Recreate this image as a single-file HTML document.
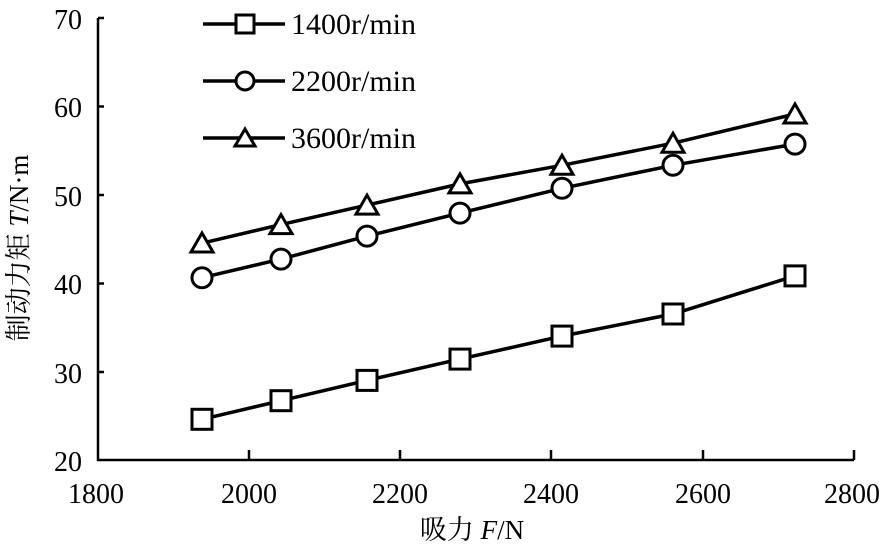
<!DOCTYPE html>
<html><head><meta charset="utf-8"><style>
html,body{margin:0;padding:0;background:#fff;}
svg{display:block;}
text{font-family:"Liberation Serif","Noto Serif CJK SC","Noto Sans CJK SC",serif;fill:#000;}
</style></head><body>
<svg width="887" height="546" viewBox="0 0 887 546" xmlns="http://www.w3.org/2000/svg">
<g stroke="#000" stroke-width="2.5" fill="none">
<path d="M98,18 V460 H854"/>
<path d="M98,18 H104 M98,106.5 H104 M98,195 H104 M98,283.5 H104 M98,372 H104"/>
<path d="M249,460 V450 M400,460 V450 M551,460 V450 M703,460 V450 M854,460 V450"/>
</g>
<g font-size="28" text-anchor="end">
<text x="82" y="29">70</text><text x="82" y="117">60</text><text x="82" y="206">50</text>
<text x="82" y="294">40</text><text x="82" y="383">30</text><text x="82" y="471">20</text>
</g>
<g font-size="28" text-anchor="middle">
<text x="96" y="503">1800</text><text x="249" y="503">2000</text><text x="400" y="503">2200</text>
<text x="551" y="503">2400</text><text x="703" y="503">2600</text><text x="852" y="503">2800</text>
</g>
<text x="472" y="539" font-size="27" text-anchor="middle">吸力 <tspan font-style="italic">F</tspan>/N</text>
<text transform="translate(28,248) rotate(-90)" font-size="27" text-anchor="middle">制动力矩 <tspan font-style="italic">T</tspan>/N·m</text>
<g stroke="#000" stroke-width="3.5" fill="none">
<polyline points="202,419.3 281,400.7 367,380.4 460,359.1 562,336.1 673,314 795,275.9"/>
<polyline points="202,277.7 281,259.1 367,236.1 460,213.1 562,188.3 673,165.3 795,144.1"/>
<polyline points="202,243.2 281,224.6 367,205.1 460,183.9 562,165.3 673,143.2 795,114"/>
<path d="M203,24 H285 M203,81 H285 M203,138 H285"/>
</g>
<g stroke="#000" stroke-width="3" fill="#fff">
<rect x="192" y="409.3" width="20" height="20"/><rect x="271" y="390.7" width="20" height="20"/>
<rect x="357" y="370.4" width="20" height="20"/><rect x="450" y="349.1" width="20" height="20"/>
<rect x="552" y="326.1" width="20" height="20"/><rect x="663" y="304" width="20" height="20"/>
<rect x="785" y="265.9" width="20" height="20"/>
<rect x="236" y="15" width="18" height="18"/>
<circle cx="202" cy="277.7" r="10"/><circle cx="281" cy="259.1" r="10"/><circle cx="367" cy="236.1" r="10"/>
<circle cx="460" cy="213.1" r="10"/><circle cx="562" cy="188.3" r="10"/><circle cx="673" cy="165.3" r="10"/>
<circle cx="795" cy="144.1" r="10"/>
<circle cx="245" cy="81" r="9"/>
<path d="M202,233 L213,252 L191,252Z M281,214.6 L292,233.6 L270,233.6Z M367,195.1 L378,214.1 L356,214.1Z M460,173.9 L471,192.9 L449,192.9Z M562,155.3 L573,174.3 L551,174.3Z M673,133.2 L684,152.2 L662,152.2Z M795,104 L806,123 L784,123Z M245,129 L255,146 L235,146Z"/>
</g>
<g font-size="30">
<text x="291" y="34">1400r/min</text>
<text x="291" y="91">2200r/min</text>
<text x="291" y="148">3600r/min</text>
</g>
</svg>
</body></html>
